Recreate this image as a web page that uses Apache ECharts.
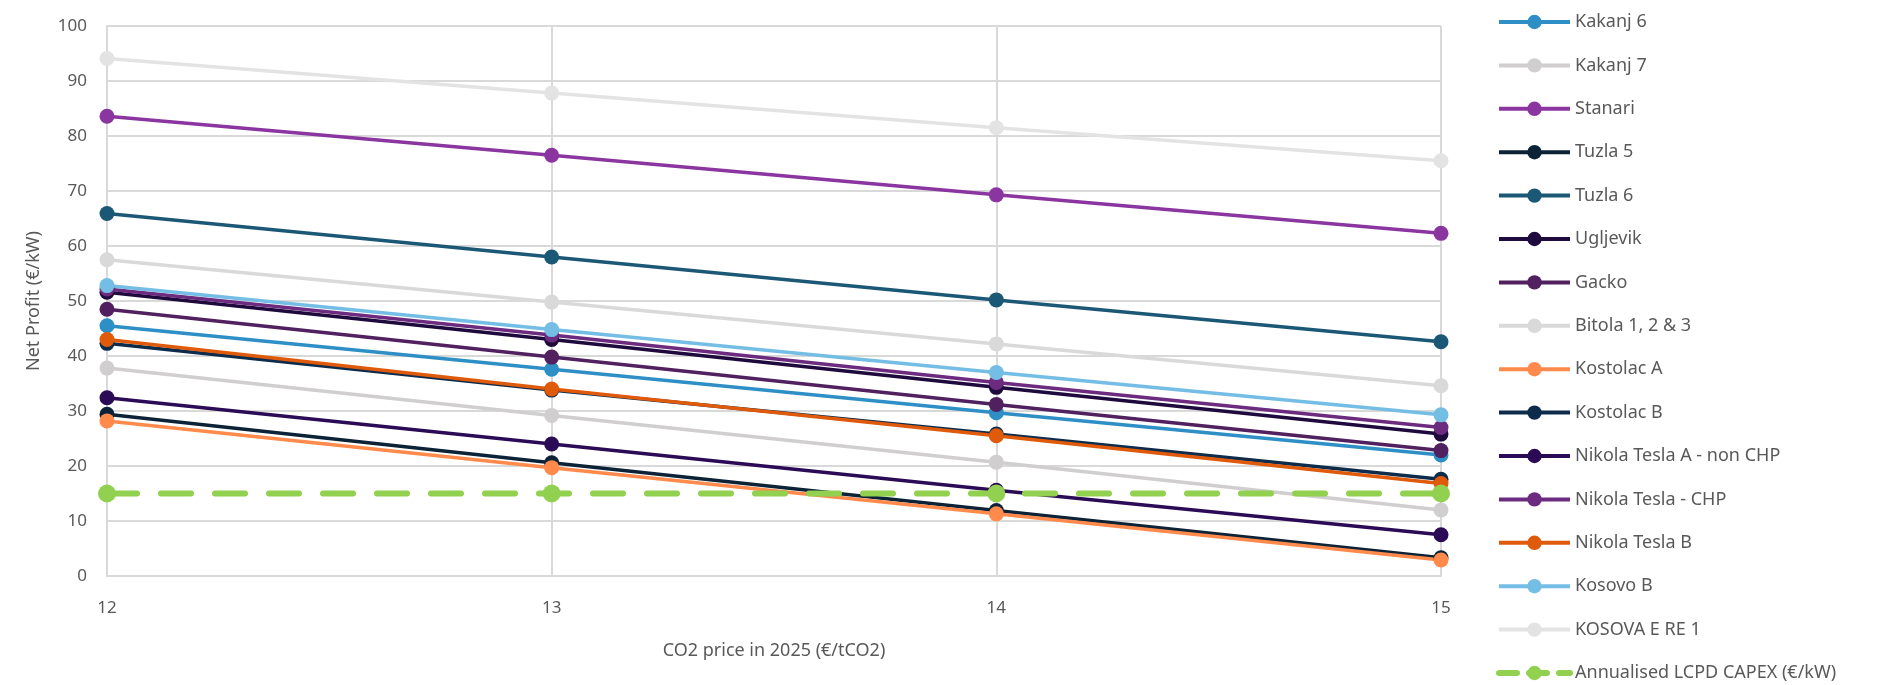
<!DOCTYPE html>
<html>
<head>
<meta charset="UTF-8">
<title>Net Profit vs CO2 price</title>
<script src="https://cdn.jsdelivr.net/npm/echarts@6/dist/echarts.min.js"></script>
<style>
  html, body { margin: 0; padding: 0; background: #fff; }
  #main { width: 1883px; height: 685px; }
</style>
</head>
<body>
<div id="main"></div>
<script>
    // CO2 price ticks
    var co2Prices = ['12', '13', '14', '15'];

    var kakanj6 = [45.5, 37.6, 29.7, 22.0];
    var kakanj7 = [37.8, 29.2, 20.7, 12.0];
    var stanari = [83.6, 76.5, 69.3, 62.3];
    var tuzla5 = [29.4, 20.6, 11.9, 3.3];
    var tuzla6 = [65.9, 58.0, 50.2, 42.6];
    var ugljevik = [51.6, 43.0, 34.3, 25.8];
    var gacko = [48.5, 39.8, 31.2, 22.8];
    var bitola = [57.5, 49.8, 42.2, 34.6];
    var kostolacA = [28.2, 19.7, 11.3, 2.9];
    var kostolacB = [42.3, 33.8, 25.8, 17.6];
    var ntNonChp = [32.4, 24.0, 15.6, 7.5];
    var ntChp = [52.2, 43.8, 35.2, 27.0];
    var ntB = [43.0, 34.0, 25.5, 16.8];
    var kosovoB = [52.8, 44.8, 37.0, 29.3];
    var kosovaERe1 = [94.1, 87.8, 81.5, 75.5];
    var lcpdCapex = [15, 15, 15, 15];

    var plants = [
        { name: 'Kakanj 6', data: kakanj6, color: '#2e8fc6' },
        { name: 'Kakanj 7', data: kakanj7, color: '#d0cece' },
        { name: 'Stanari', data: stanari, color: '#8a35a0' },
        { name: 'Tuzla 5', data: tuzla5, color: '#0c2237' },
        { name: 'Tuzla 6', data: tuzla6, color: '#1b5876' },
        { name: 'Ugljevik', data: ugljevik, color: '#1e0a3c' },
        { name: 'Gacko', data: gacko, color: '#50205f' },
        { name: 'Bitola 1, 2 & 3', data: bitola, color: '#d9d9d9' },
        { name: 'Kostolac A', data: kostolacA, color: '#ff8a4c' },
        { name: 'Kostolac B', data: kostolacB, color: '#0d2c4c' },
        { name: 'Nikola Tesla A - non CHP', data: ntNonChp, color: '#2b0a56' },
        { name: 'Nikola Tesla - CHP', data: ntChp, color: '#6c2b7e' },
        { name: 'Nikola Tesla B', data: ntB, color: '#e05a0c' },
        { name: 'Kosovo B', data: kosovoB, color: '#74bde5' },
        { name: 'KOSOVA E RE 1', data: kosovaERe1, color: '#e3e3e3' }
    ];

    var series = plants.map(function (p) {
        return {
            name: p.name,
            type: 'line',
            data: p.data,
            symbol: 'circle',
            symbolSize: 15,
            color: p.color,
            lineStyle: { width: 3.5, color: p.color },
            itemStyle: { color: p.color }
        };
    });

    series.push({
        name: 'Annualised LCPD CAPEX (€/kW)',
        type: 'line',
        data: lcpdCapex,
        symbol: 'circle',
        symbolSize: 18,
        color: '#92d050',
        lineStyle: { width: 6, color: '#92d050', type: [30, 24], cap: 'round' },
        itemStyle: { color: '#92d050' }
    });

    // legend entries, the dashed one drawn thicker like in the chart
    var legendData = series.map(function (s) {
        if (s.name.indexOf('LCPD') >= 0) {
            return { name: s.name, lineStyle: { width: 6, type: [18, 12], cap: 'round' } };
        }
        return { name: s.name, lineStyle: { width: 4 } };
    });

    var myChart = echarts.init(document.getElementById('main'));

    var option = {
        animation: false,
        textStyle: { fontFamily: 'Noto Sans', color: '#595959' },
        grid: { left: 107, right: 442, top: 26, bottom: 109 },
        legend: {
            orient: 'vertical',
            left: 1496,
            top: 13,
            padding: 0,
            itemWidth: 71,
            itemHeight: 18,
            itemGap: 25.4,
            textStyle: { fontSize: 18, lineHeight: 18, color: '#595959', fontFamily: 'Noto Sans' },
            data: legendData
        },
        xAxis: {
            type: 'category',
            data: co2Prices,
            boundaryGap: false,
            name: 'CO2 price in 2025 (€/tCO2)',
            nameLocation: 'middle',
            nameGap: 66,
            nameTextStyle: { fontSize: 18, color: '#595959' },
            axisLine: { lineStyle: { color: '#d9d9d9', width: 2 } },
            axisTick: { show: false },
            axisLabel: { fontSize: 17, color: '#595959', margin: 24 },
            splitLine: { show: true, lineStyle: { color: '#d9d9d9', width: 2 } }
        },
        yAxis: {
            type: 'value',
            min: 0,
            max: 100,
            interval: 10,
            name: 'Net Profit (€/kW)',
            nameLocation: 'middle',
            nameGap: 64,
            nameTextStyle: { fontSize: 18, color: '#595959' },
            axisLine: { show: true, lineStyle: { color: '#d9d9d9', width: 2 } },
            axisTick: { show: false },
            axisLabel: { fontSize: 17, color: '#595959', margin: 20 },
            splitLine: { lineStyle: { color: '#d9d9d9', width: 2 } }
        },
        series: series
    };

    myChart.setOption(option);
</script>
</body>
</html>
